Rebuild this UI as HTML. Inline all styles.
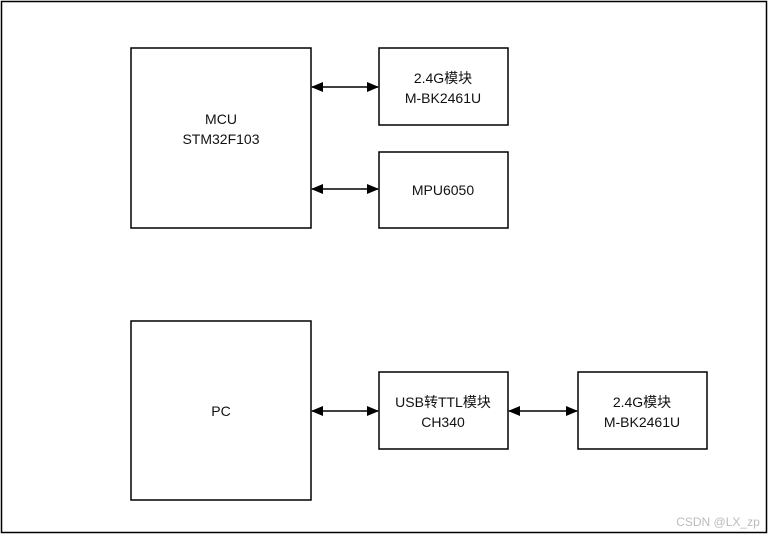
<!DOCTYPE html>
<html><head><meta charset="utf-8"><style>
body{margin:0;background:#fff;}
svg text{font-family:"Liberation Sans","Noto Sans CJK SC",sans-serif;font-size:14px;fill:#111;text-anchor:middle;}
</style></head><body>
<svg width="769" height="535" xmlns="http://www.w3.org/2000/svg">
<defs>
<marker id="a" markerWidth="12" markerHeight="10" refX="11" refY="5" orient="auto-start-reverse" markerUnits="userSpaceOnUse">
<path d="M0,0 L12,5 L0,10 Z" fill="#000"/></marker>
</defs>
<rect x="1.5" y="1.5" width="765" height="531" fill="none" stroke="#000" stroke-width="1.5"/>
<g fill="#fff" stroke="#000" stroke-width="1.5">
<rect x="131" y="48" width="180" height="180"/>
<rect x="379" y="48" width="129" height="77"/>
<rect x="379" y="152" width="129" height="76"/>
<rect x="131" y="321" width="180" height="179"/>
<rect x="379" y="372" width="129" height="77"/>
<rect x="578" y="372" width="129" height="77"/>
</g>
<g stroke="#000" stroke-width="1.5" marker-start="url(#a)" marker-end="url(#a)">
<line x1="312" y1="87" x2="378" y2="87"/>
<line x1="312" y1="189" x2="378" y2="189"/>
<line x1="312" y1="411" x2="378" y2="411"/>
<line x1="509" y1="411" x2="577" y2="411"/>
</g>
<text x="221" y="124">MCU</text>
<text x="221" y="144">STM32F103</text>
<text x="443" y="83">2.4G模块</text>
<text x="443" y="103">M-BK2461U</text>
<text x="443" y="195">MPU6050</text>
<text x="221" y="416">PC</text>
<text x="443" y="407">USB转TTL模块</text>
<text x="443" y="427">CH340</text>
<text x="642" y="407">2.4G模块</text>
<text x="642" y="427">M-BK2461U</text>
<text x="718" y="526" style="font-size:12px;fill:#bbb">CSDN @LX_zp</text>
</svg>
</body></html>
